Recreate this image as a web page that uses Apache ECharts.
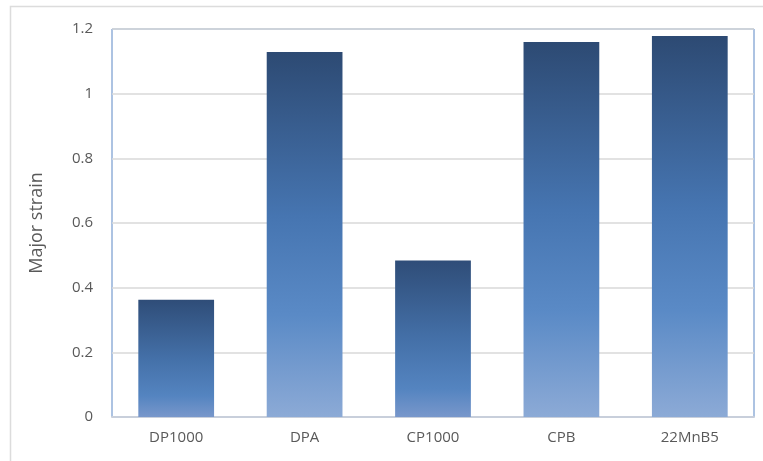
<!DOCTYPE html>
<html>
<head>
<meta charset="utf-8">
<script src="https://cdn.jsdelivr.net/npm/echarts@6/dist/echarts.min.js"></script>
<style>
  html, body { margin: 0; padding: 0; background: #fff; }
  #chart { width: 763px; height: 461px; }
</style>
</head>
<body>
<div id="chart"></div>
<script>
// data
const categories = ['DP1000', 'DPA', 'CP1000', 'CPB', '22MnB5'];
const majorStrain = [0.363, 1.129, 0.484, 1.16, 1.178];
const yTicks = [0, 0.2, 0.4, 0.6, 0.8, 1, 1.2];

// tall bars get a long linear fade, short ones a darker fade with lighter foot
const tallFill = {
  type: 'linear', x: 0, y: 0, x2: 0, y2: 1,
  colorStops: [
    { offset: 0, color: '#2d4a73' },
    { offset: 0.45, color: '#4675b1' },
    { offset: 0.72, color: '#5a8ac6' },
    { offset: 1, color: '#8caad6' }
  ]
};
const shortFill = {
  type: 'linear', x: 0, y: 0, x2: 0, y2: 1,
  colorStops: [
    { offset: 0, color: '#2f4d78' },
    { offset: 0.5, color: '#4470a8' },
    { offset: 0.82, color: '#5484c0' },
    { offset: 1, color: '#7897cb' }
  ]
};

const chart = echarts.init(document.getElementById('chart'));

chart.setOption({
  animation: false,
  textStyle: { fontFamily: '"Open Sans", Lato, sans-serif' },
  grid: {
    left: 112, top: 29, right: 9, bottom: 44,
    show: true, borderColor: '#5b87c5', borderWidth: 1
  },
  graphic: [{
    type: 'rect',
    shape: { x: 10.5, y: 6.5, width: 800, height: 500 },
    style: { fill: 'none', stroke: '#dcdcdc', lineWidth: 1.5 },
    z: -1
  }],
  xAxis: {
    type: 'category',
    data: categories,
    axisLine: { show: true, lineStyle: { color: '#c8cfdb', width: 2 } },
    axisTick: { show: false },
    axisLabel: { color: '#595959', fontSize: 15, margin: 13 }
  },
  yAxis: {
    type: 'value',
    min: 0, max: 1.2, interval: 0.2,
    name: 'Major strain',
    nameLocation: 'middle',
    nameGap: 66,
    nameTextStyle: { color: '#595959', fontSize: 18 },
    axisLine: { show: false },
    axisTick: { show: false },
    splitLine: { lineStyle: { color: '#d9d9d9', width: 1.5 } },
    axisLabel: {
      color: '#595959', fontSize: 15, margin: 19,
      formatter: v => {
        const t = yTicks.find(k => Math.abs(k - v) < 1e-9);
        return t === undefined ? '' : String(t);
      }
    }
  },
  series: [{
    type: 'bar',
    barWidth: '59%',
    data: majorStrain.map(v => ({
      value: v,
      itemStyle: { color: v > 0.8 ? tallFill : shortFill }
    }))
  }]
});
</script>
</body>
</html>
